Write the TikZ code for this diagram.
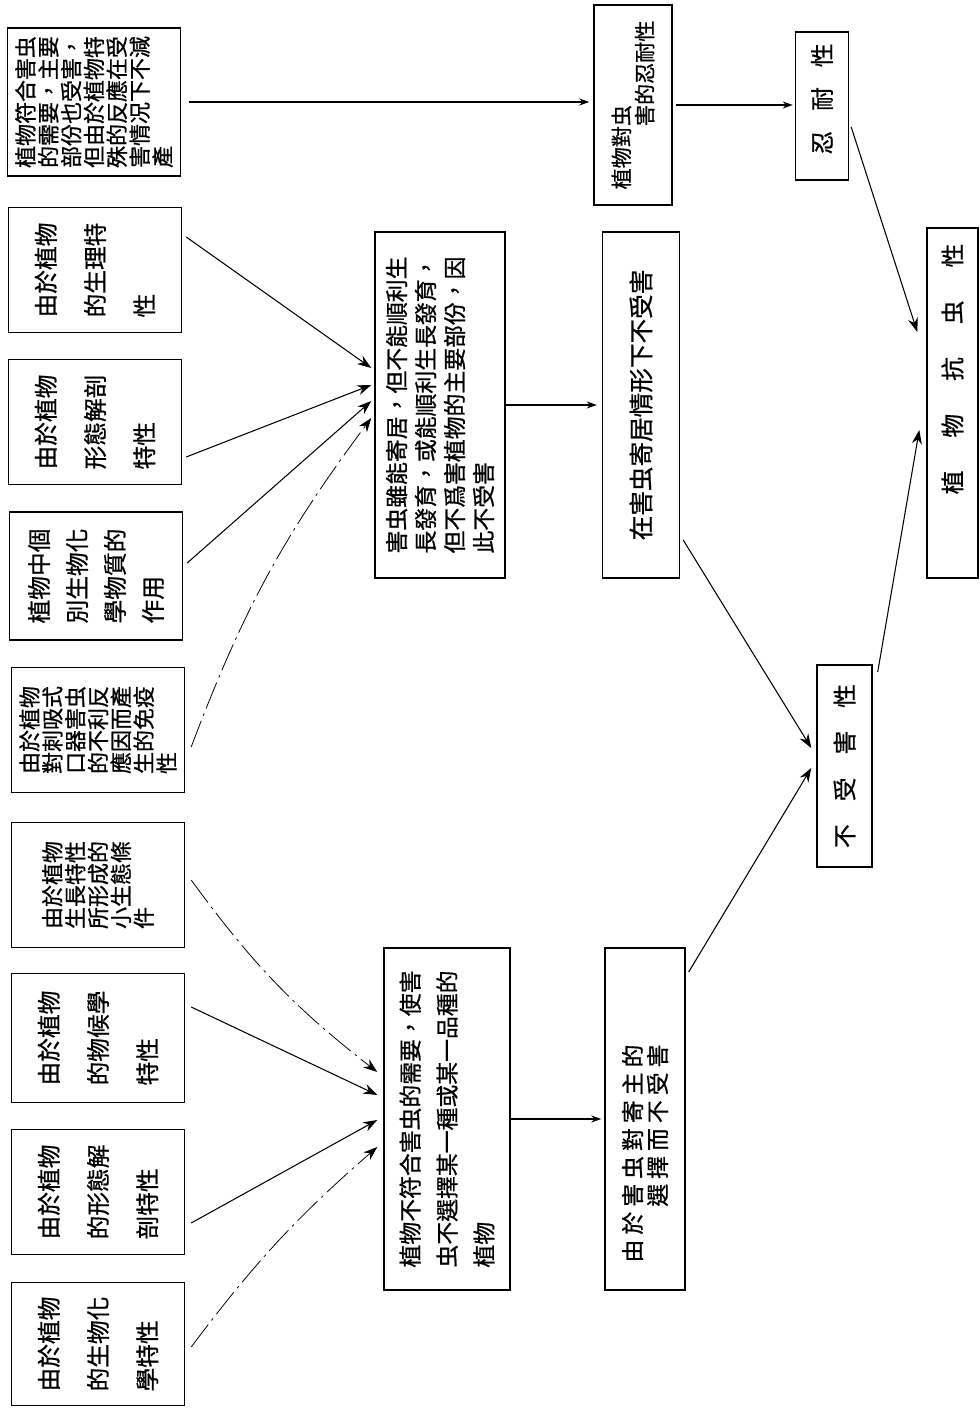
\documentclass[tikz,border=0pt]{standalone}
\usepackage{fontspec}
\newfontfamily\cjk[FakeBold=0.8]{Noto Sans CJK TC}
\newfontfamily\cjkwide[LetterSpace=22, FakeBold=0.8]{Noto Sans CJK TC}
\usetikzlibrary{arrows.meta, calc}
\tikzset{
  leaf/.style={rectangle, draw=black, line width=0.8pt, minimum width=25mm,
    minimum height=34.6mm, inner sep=0pt, align=left},
  midbox/.style={rectangle, draw=black, line width=0.8pt, inner sep=0pt, align=left},
  arrow/.style={-{Stealth[length=2mm,width=1.4mm]}, line width=0.6pt},
  bigarrow/.style={-{Stealth[length=2.8mm,width=2mm]}, line width=0.6pt},
  faint/.style={line width=0.45pt, dash pattern=on 16pt off 3pt on 1.5pt off 3pt},
  dense/.style={font=\cjk\fontsize{12.5}{13}\selectfont},
  loose/.style={font=\cjk\fontsize{13.5}{28}\selectfont}
}

\begin{document}
\begin{tikzpicture}[x=0.2mm, y=0.2mm]
\begin{scope}[rotate=90, transform shape]
  \useasboundingbox (0,0) rectangle (1410,980);

  % causes (top row)
  \node[leaf, dense, minimum width=29.6mm] (b1) at (1308,886)
    {植物符合害虫\\的需要，主要\\部份也受害，\\但由於植物特\\殊的反應在受\\害情况下不減\\產};
  \node[leaf, loose] (b2) at (1140,885) {由於植物\\的生理特\\性};
  \node[leaf, loose] (b3) at (988,885) {由於植物\\形態解剖\\特性};
  \node[leaf, font=\cjk\fontsize{13.5}{21.6}\selectfont, minimum width=25.6mm] (b4) at (834,884)
    {植物中個\\別生物化\\學物質的\\作用};
  \node[leaf, dense] (b5) at (680,882)
    {由於植物\\對刺吸式\\口器害虫\\的不利反\\應因而產\\生的免疫\\性};
  \node[leaf, dense] (b6) at (525,882)
    {由於植物\\生長特性\\所形成的\\小生態條\\件};
  \node[leaf, loose, minimum width=25.8mm] (b7) at (372,882) {由於植物\\的物候學\\特性};
  \node[leaf, loose] (b8) at (218,882) {由於植物\\的形態解\\剖特性};
  \node[leaf, loose, minimum width=24.6mm] (b9) at (66,882) {由於植物\\的生物化\\學特性};

  % middle row
  \node[midbox, font=\cjk\fontsize{13}{16.5}\selectfont, minimum width=69.2mm, minimum height=26mm] (b10) at (1005,540)
    {害虫雖能寄居，但不能順利生\\長發育，或能順利生長發育，\\但不爲害植物的主要部份，因\\此不受害};
  \node[midbox, font=\cjk\fontsize{13}{21}\selectfont, minimum width=68.4mm, minimum height=25.2mm] (b11) at (291,533)
    {植物不符合害虫的需要，使害\\虫不選擇某一種或某一品種的\\植物};

  % third row
  \node[midbox, font=\cjk\fontsize{12}{13.2}\selectfont, minimum width=40mm, minimum height=15.6mm] (b12) at (1305,347)
    {植物對虫\\\hspace*{3em}害的忍耐性};
  \node[midbox, font=\cjk\fontsize{14}{16}\selectfont, minimum width=69.2mm, minimum height=15.4mm] (b13) at (1005,339)
    {在害虫寄居情形下不受害};
  \node[midbox, align=right, font=\cjkwide\fontsize{13}{14.2}\selectfont, minimum width=68.4mm, minimum height=16mm] (b14) at (291,335)
    {由於害虫對寄主的\hspace*{13.8mm}\\選擇而不受害\hspace*{13.8mm}};

  % results
  \node[midbox, font=\cjk\fontsize{13.5}{15}\selectfont, minimum width=29.6mm, minimum height=10.6mm] (b15) at (1304,158)
    {\hspace*{2.8mm}忍\hspace{4mm}耐\hspace{4mm}性};
  \node[midbox, font=\cjk\fontsize{13.5}{15}\selectfont, minimum width=40.4mm, minimum height=11mm] (b17) at (644,135.5)
    {不\hspace{4.6mm}受\hspace{4.6mm}害\hspace{4.6mm}性};
  \node[midbox, font=\cjk\fontsize{13.5}{15}\selectfont, minimum width=70mm, minimum height=10.2mm] (b16) at (1007,27.5)
    {\hspace*{13.6mm}植\hspace{6.6mm}物\hspace{6.6mm}抗\hspace{6.6mm}虫\hspace{6.6mm}性};

  % straight links
  \draw[arrow, shorten <=1.6mm, shorten >=0.8mm] (b1.south) -- (b1.south |- b12.north);
  \draw[arrow, shorten >=1mm] (b10.south) -- (b13.north);
  \draw[arrow, shorten >=0.6mm] (b11.south) -- (b14.north);
  \draw[arrow, shorten <=0.6mm, shorten >=0.4mm] (b12.south) -- (b12.south |- b15.north);

  % converging into b10
  \draw[bigarrow] ($(b2.south)+(33,-4)$) -- ($(b10.north)+(37,3)$);
  \draw[bigarrow] ($(b3.south)+(-35,-4)$) -- ($(b10.north)+(20,3)$);
  \draw[bigarrow] ($(b4.south)+(13,-4)$) -- ($(b10.north)+(4,3)$);
  \draw[bigarrow, faint] ($(b5.south)+(-17,-6)$) to[bend left=8] ($(b10.north)+(-13,3)$);

  % converging into b11
  \draw[bigarrow, faint] ($(b6.south)+(5,-6)$) to[bend right=8] ($(b11.north)+(47,6)$);
  \draw[bigarrow] ($(b7.south)+(31,-6)$) -- ($(b11.north)+(24,6)$);
  \draw[bigarrow] ($(b8.south)+(-31,-6)$) -- ($(b11.north)+(-1,6)$);
  \draw[bigarrow, faint] ($(b9.south)+(-3,-6)$) to[bend left=6] ($(b11.north)+(-28,6)$);

  % towards the results
  \draw[bigarrow] ($(b13.south)+(-135,-3)$) -- ($(b17.north)+(18,5)$);
  \draw[bigarrow] ($(b14.south)+(147,-3)$) -- ($(b17.north)+(-2,5)$);
  \draw[bigarrow] ($(b17.south)+(94,-5)$) -- ($(b16.north)+(-27,7)$);
  \draw[bigarrow] ($(b15.south)+(-21,-2)$) -- ($(b16.north)+(71,9)$);
\end{scope}
\end{tikzpicture}
\end{document}
